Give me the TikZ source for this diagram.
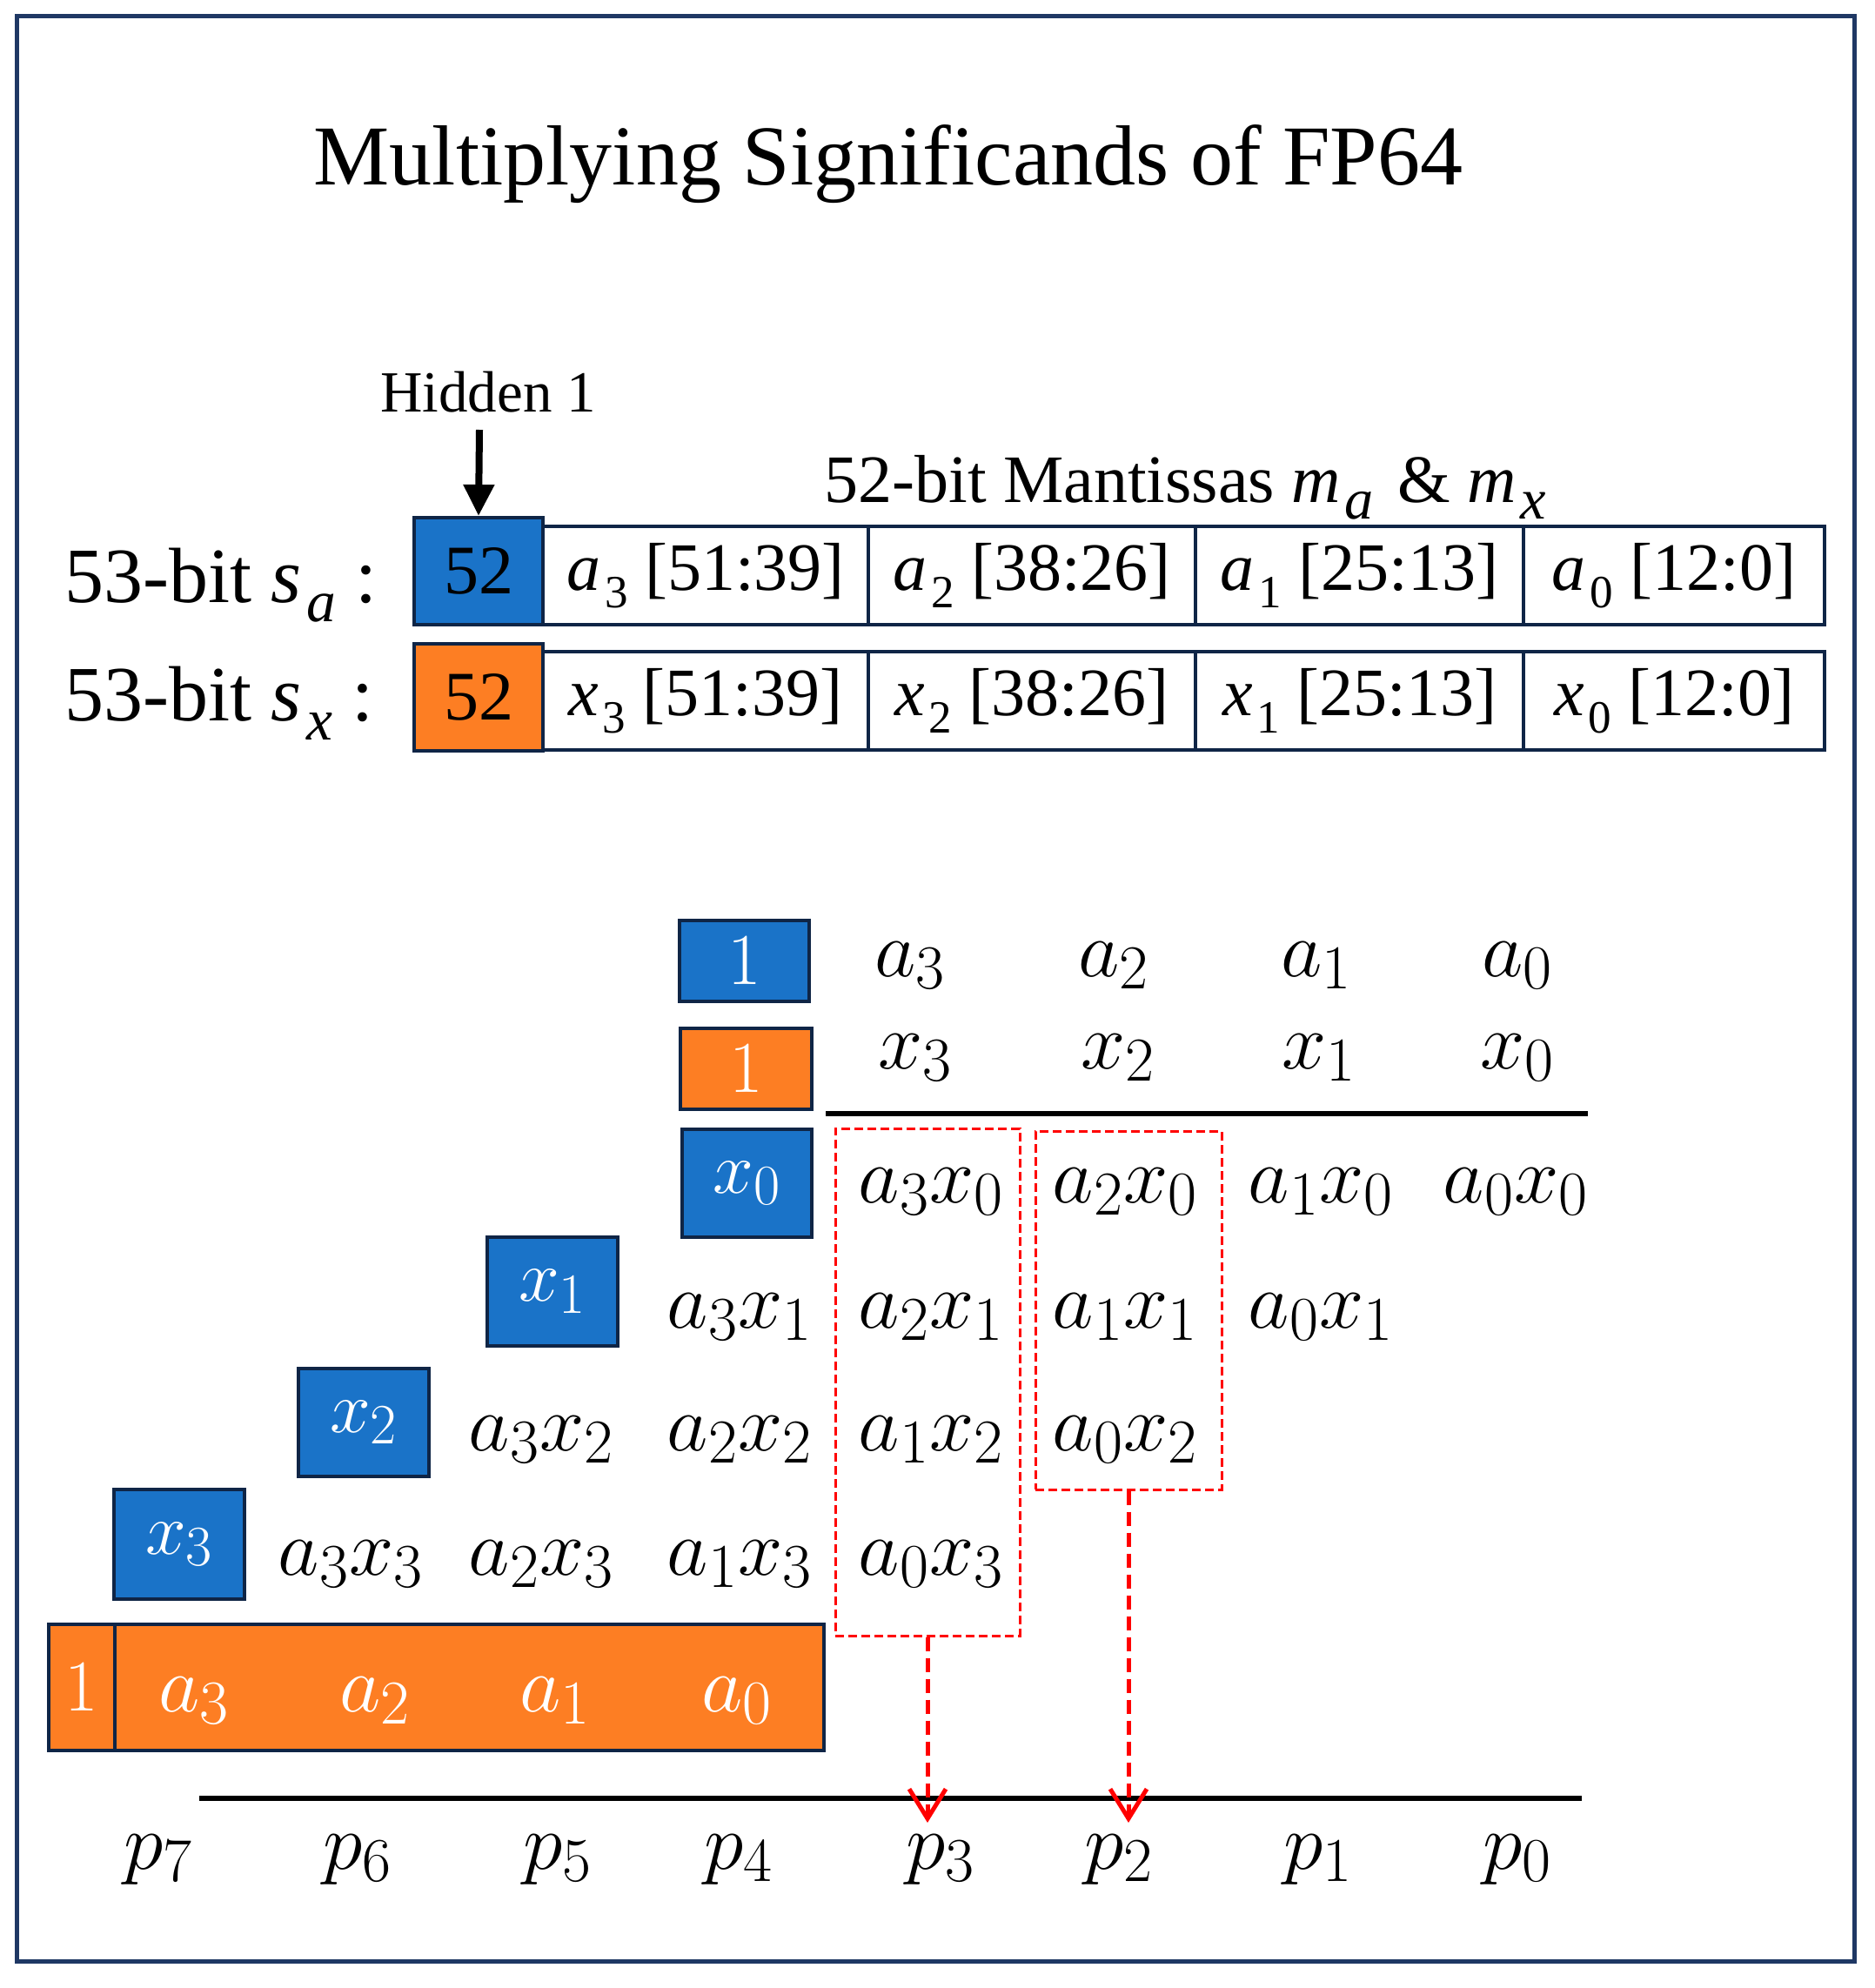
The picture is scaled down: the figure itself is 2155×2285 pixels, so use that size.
\RequirePackage{fix-cm}
\documentclass[tikz,border=0pt]{standalone}
\usepackage{fontspec}
\setmainfont{Liberation Serif}
\usepackage{graphicx}
\usetikzlibrary{arrows.meta}
\def\defaultscriptratio{.78}
\def\defaultscriptscriptratio{.6}
\definecolor{framec}{HTML}{1F3864}
\definecolor{edgec}{HTML}{0F2546}
\definecolor{blueF}{HTML}{1A73C8}
\definecolor{orangeF}{HTML}{FD7E23}
\definecolor{redc}{HTML}{FF0000}
\newcommand\isub[3][0.68]{\textit{#2}\kern0.06em\raisebox{-0.25em}{\scalebox{#1}{#3}}}
\newcommand\fs[1]{\fontsize{#1}{#1}\selectfont}
\newcommand\RB[7]{\node[#1, inner sep=0pt, minimum width={(#5-#3)*0.5pt}, minimum height={(#6-#4)*0.5pt}] (#2) at ({(#3+#5)/2},{(#4+#6)/2}) {#7};}
\tikzset{
 frame/.style={draw=framec, line width=2.5pt},
 topblue/.style={draw=edgec, line width=2pt, fill=blueF, font=\fs{40}},
 toporange/.style={draw=edgec, line width=2pt, fill=orangeF, font=\fs{40}},
 cell/.style={draw=edgec, line width=1.6pt, font=\fs{39}},
 lowblue/.style={draw=edgec, line width=2pt, fill=blueF, text=white, font=\fs{42}},
 loworange/.style={draw=edgec, line width=2pt, fill=orangeF, text=white, font=\fs{42}},
 mtxt/.style={anchor=base, inner sep=0pt, font=\fs{46}},
 wtxt/.style={anchor=base, inner sep=0pt, font=\fs{46}, text=white},
 redbox/.style={draw=redc, line width=1.5pt, dash pattern=on 5pt off 2.5pt},
 redarrow/.style={draw=redc, line width=2.5pt, dash pattern=on 8pt off 4pt, -{Straight Barb[length=17pt,width=21pt]}},
 rulel/.style={draw=black, line width=3pt},
 harrow/.style={draw=black, line width=4pt, -{Triangle[length=18pt,width=17pt]}},
 plain/.style={inner sep=0pt},
}
\begin{document}
\begin{tikzpicture}[x=0.5pt,y=-0.5pt]
\useasboundingbox (0,0) rectangle (2155,2285);
\draw[frame] (19,19) rectangle (2131,2254);

% title
\node[plain, anchor=base, font=\fs{49}] (title) at (1021,213) {Multiplying Significands of FP64};

% top section
\node[plain, anchor=base, font=\fs{33.5}] (hid) at (561,473) {Hidden 1};
\node[plain, anchor=base west, font=\fs{39}] (mant) at (947,577) {52-bit Mantissas \isub[0.85]{m}{\textit{a}}\kern0.1em\ \&\ \isub[0.85]{m}{\textit{x}}};
\node[plain, anchor=base west, font=\fs{45}] (la) at (74,692) {53-bit \isub[0.75]{s}{\textit{a}} :};
\node[plain, anchor=base west, font=\fs{45}] (lx) at (74,828) {53-bit \isub[0.75]{s}{\textit{x}} :};

\RB{topblue}{ba}{476}{595}{624}{718}{52}
\RB{cell}{ca3}{624}{605}{998}{718}{\isub{a}{3} [51:39]}
\RB{cell}{ca2}{998}{605}{1374}{718}{\isub{a}{2} [38:26]}
\RB{cell}{ca1}{1374}{605}{1751}{718}{\isub{a}{1} [25:13]}
\RB{cell}{ca0}{1751}{605}{2097}{718}{\isub{a}{0} [12:0]}

\RB{toporange}{bx}{476}{740}{624}{863}{52}
\RB{cell}{cx3}{624}{749}{998}{862}{\isub{x}{3} [51:39]}
\RB{cell}{cx2}{998}{749}{1374}{862}{\isub{x}{2} [38:26]}
\RB{cell}{cx1}{1374}{749}{1751}{862}{\isub{x}{1} [25:13]}
\RB{cell}{cx0}{1751}{749}{2097}{862}{\isub{x}{0} [12:0]}

\coordinate (h0) at (551,494);
\draw[harrow] (h0) -- (ba.north);

% lower section: multiplicands
\RB{lowblue}{one1}{781}{1058}{930}{1151}{$1$}
\RB{loworange}{one2}{782}{1182}{933}{1275}{$1$}
\node[mtxt] (ra3) at (1046,1122) {$a_3$};
\node[mtxt] (ra2) at (1280,1122) {$a_2$};
\node[mtxt] (ra1) at (1513,1122) {$a_1$};
\node[mtxt] (ra0) at (1744,1122) {$a_0$};
\node[mtxt] (rx3) at (1052,1228) {$x_3$};
\node[mtxt] (rx2) at (1285,1228) {$x_2$};
\node[mtxt] (rx1) at (1516,1228) {$x_1$};
\node[mtxt] (rx0) at (1744,1228) {$x_0$};
\coordinate (r1a) at (949,1280);
\coordinate (r1b) at (1825,1280);
\draw[rulel] (r1a) -- (r1b);

% partial products
\RB{lowblue}{bx0}{784}{1298}{933}{1422}{$x_0$}
\RB{lowblue}{bx1}{560}{1422}{710}{1547}{$x_1$}
\RB{lowblue}{bx2}{343}{1573}{493}{1697}{$x_2$}
\RB{lowblue}{bx3}{131}{1712}{281}{1838}{$x_3$}

\node[mtxt] (p30) at (1070,1382) {$a_3x_0$};
\node[mtxt] (p20) at (1293,1382) {$a_2x_0$};
\node[mtxt] (p10) at (1518,1382) {$a_1x_0$};
\node[mtxt] (p00) at (1742,1382) {$a_0x_0$};

\node[mtxt] (p31) at (850,1526) {$a_3x_1$};
\node[mtxt] (p21) at (1070,1526) {$a_2x_1$};
\node[mtxt] (p11) at (1293,1526) {$a_1x_1$};
\node[mtxt] (p01) at (1518,1526) {$a_0x_1$};

\node[mtxt] (p32) at (622,1667) {$a_3x_2$};
\node[mtxt] (p22) at (850,1667) {$a_2x_2$};
\node[mtxt] (p12) at (1070,1667) {$a_1x_2$};
\node[mtxt] (p02) at (1293,1667) {$a_0x_2$};

\node[mtxt] (p33) at (403,1810) {$a_3x_3$};
\node[mtxt] (p23) at (622,1810) {$a_2x_3$};
\node[mtxt] (p13) at (850,1810) {$a_1x_3$};
\node[mtxt] (p03) at (1070,1810) {$a_0x_3$};

% orange bar
\RB{loworange}{barone}{56}{1867}{132}{2012}{$1$}
\RB{loworange}{barrest}{132}{1867}{947}{2012}{}
\node[wtxt] (ba3) at (223,1967) {$a_3$};
\node[wtxt] (ba2) at (431,1967) {$a_2$};
\node[wtxt] (ba1) at (638,1967) {$a_1$};
\node[wtxt] (ba0) at (847,1967) {$a_0$};

% red dashed groups
\RB{redbox}{rb1}{960}{1297}{1172}{1880}{}
\RB{redbox}{rb2}{1190}{1300}{1404}{1712}{}

% bottom rule and result
\coordinate (r2a) at (229,2067);
\coordinate (r2b) at (1818,2067);
\draw[rulel] (r2a) -- (r2b);
\coordinate (t1) at (1066,2095);
\coordinate (t2) at (1297,2095);
\draw[redarrow] (rb1.south) -- (t1);
\draw[redarrow] (rb2.south) -- (t2);

\node[mtxt] (q7) at (182,2148) {$p_7$};
\node[mtxt] (q6) at (411,2148) {$p_6$};
\node[mtxt] (q5) at (641,2148) {$p_5$};
\node[mtxt] (q4) at (849,2148) {$p_4$};
\node[mtxt] (q3) at (1081,2148) {$p_3$};
\node[mtxt] (q2) at (1286,2148) {$p_2$};
\node[mtxt] (q1) at (1515,2148) {$p_1$};
\node[mtxt] (q0) at (1744,2148) {$p_0$};
\end{tikzpicture}
\end{document}
